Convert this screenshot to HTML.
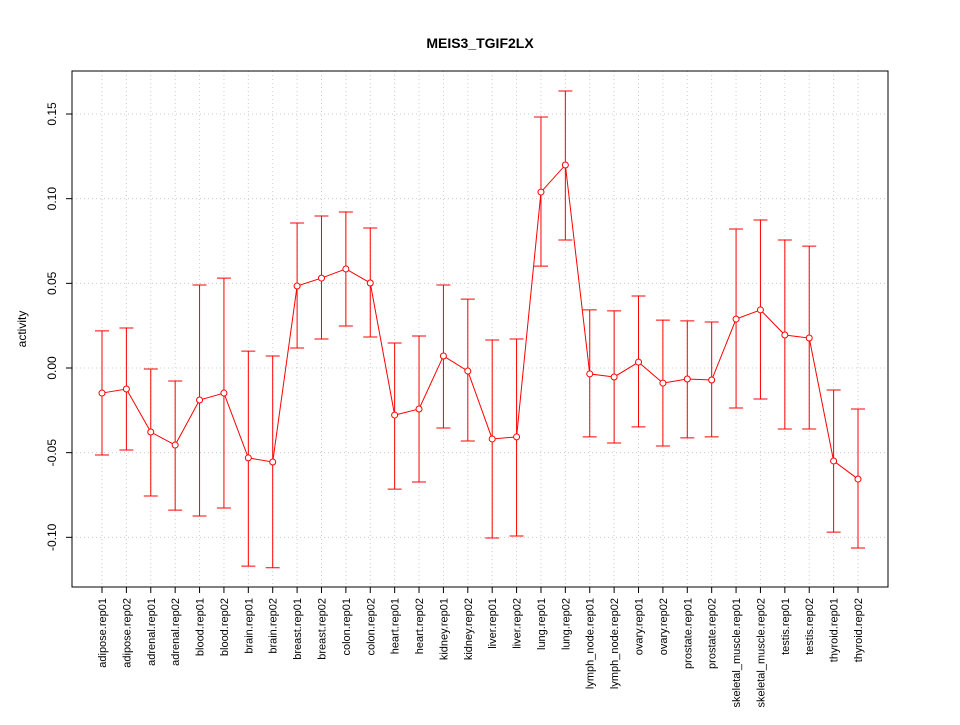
<!DOCTYPE html>
<html><head><meta charset="utf-8"><style>
body{margin:0;background:#fff;}
svg text{font-family:"Liberation Sans",Arial,sans-serif;}
</style></head><body>
<svg id="chart" width="960" height="720" xmlns="http://www.w3.org/2000/svg">
<rect width="960" height="720" fill="#fff"/>
<text x="480" y="48" text-anchor="middle" font-size="14" font-weight="bold">MEIS3_TGIF2LX</text>
<text transform="translate(26,329) rotate(-90)" text-anchor="middle" font-size="12">activity</text>
<g id="grid"></g><g id="axes"></g><g id="marks"></g>
<rect x="72" y="71" width="816" height="516" fill="none" stroke="#000" stroke-width="1"/>
</svg>
<script>
const categories=["adipose.rep01","adipose.rep02","adrenal.rep01","adrenal.rep02","blood.rep01","blood.rep02","brain.rep01","brain.rep02","breast.rep01","breast.rep02","colon.rep01","colon.rep02","heart.rep01","heart.rep02","kidney.rep01","kidney.rep02","liver.rep01","liver.rep02","lung.rep01","lung.rep02","lymph_node.rep01","lymph_node.rep02","ovary.rep01","ovary.rep02","prostate.rep01","prostate.rep02","skeletal_muscle.rep01","skeletal_muscle.rep02","testis.rep01","testis.rep02","thyroid.rep01","thyroid.rep02"];
const values=[-0.0148,-0.0124,-0.0378,-0.0455,-0.0189,-0.0148,-0.0531,-0.0555,0.0484,0.0531,0.0585,0.0502,-0.0278,-0.0242,0.0071,-0.0018,-0.0419,-0.0407,0.1039,0.1199,-0.0035,-0.0053,0.0035,-0.0089,-0.0065,-0.0071,0.0289,0.0343,0.0195,0.0177,-0.0549,-0.0656];
const upper=[0.0219,0.0236,-0.0006,-0.0077,0.049,0.0531,0.01,0.0071,0.0856,0.0898,0.0921,0.0827,0.0148,0.0189,0.049,0.0407,0.0165,0.0171,0.1482,0.1636,0.0343,0.0337,0.0425,0.0283,0.0278,0.0272,0.0821,0.0874,0.0756,0.072,-0.013,-0.0242];
const lower=[-0.0514,-0.0484,-0.0756,-0.0839,-0.0874,-0.0827,-0.117,-0.118,0.0118,0.0171,0.0248,0.0183,-0.0715,-0.0673,-0.0354,-0.0431,-0.1004,-0.0992,0.0602,0.0756,-0.0407,-0.0443,-0.0348,-0.0461,-0.0413,-0.0407,-0.0236,-0.0183,-0.036,-0.036,-0.0969,-0.1063];
const yTicks=[-0.10,-0.05,0.00,0.05,0.10,0.15];
const yTickLabels=["-0.10","-0.05","0.00","0.05","0.10","0.15"];
const NS="http://www.w3.org/2000/svg";
function xS(i){return 102+i*(756/(categories.length-1));}
function yS(v){return 368-v*1693.3;}
function mk(tag,attrs,parent){const e=document.createElementNS(NS,tag);for(const k in attrs)e.setAttribute(k,attrs[k]);document.getElementById(parent).appendChild(e);return e;}
yTicks.forEach((t,i)=>{
  const g=mk('line',{x1:72,x2:888,y1:yS(t),y2:yS(t),stroke:'#ccc','stroke-dasharray':'1,3'},'grid');
  
  
  const tk=mk('line',{x1:66,x2:72,y1:yS(t),y2:yS(t),stroke:'#000'},'axes');
  
  
  const tx=mk('text',{transform:`translate(56,${yS(t)}) rotate(-90)`,'text-anchor':'middle','font-size':12},'axes');
  tx.textContent=yTickLabels[i];
  
  
});
categories.forEach((c,i)=>{
  const x=xS(i);
  const g=mk('line',{x1:x,x2:x,y1:71,y2:587,stroke:'#ccc','stroke-dasharray':'1,3'},'grid');
  
  
  const tk=mk('line',{x1:x,x2:x,y1:587,y2:593,stroke:'#000'},'axes');
  
  
  const tx=mk('text',{transform:`translate(${x+4},598) rotate(-90)`,'text-anchor':'end','font-size':11},'axes');
  tx.textContent=c;
  
  
});
const pl=mk('polyline',{points:values.map((v,i)=>xS(i)+','+yS(v)).join(' '),fill:'none',stroke:'#f00'},'marks');


values.forEach((v,i)=>{
  const x=xS(i);
  const eb=mk('path',{d:`M${x},${yS(upper[i])}V${yS(lower[i])}M${x-7},${yS(upper[i])}H${x+7}M${x-7},${yS(lower[i])}H${x+7}`,stroke:'#f00',fill:'none'},'marks');
  
  
  const p=mk('circle',{cx:x,cy:yS(v),r:3,fill:'#fff',stroke:'#f00'},'marks');
  
  
});
</script>
</body></html>
